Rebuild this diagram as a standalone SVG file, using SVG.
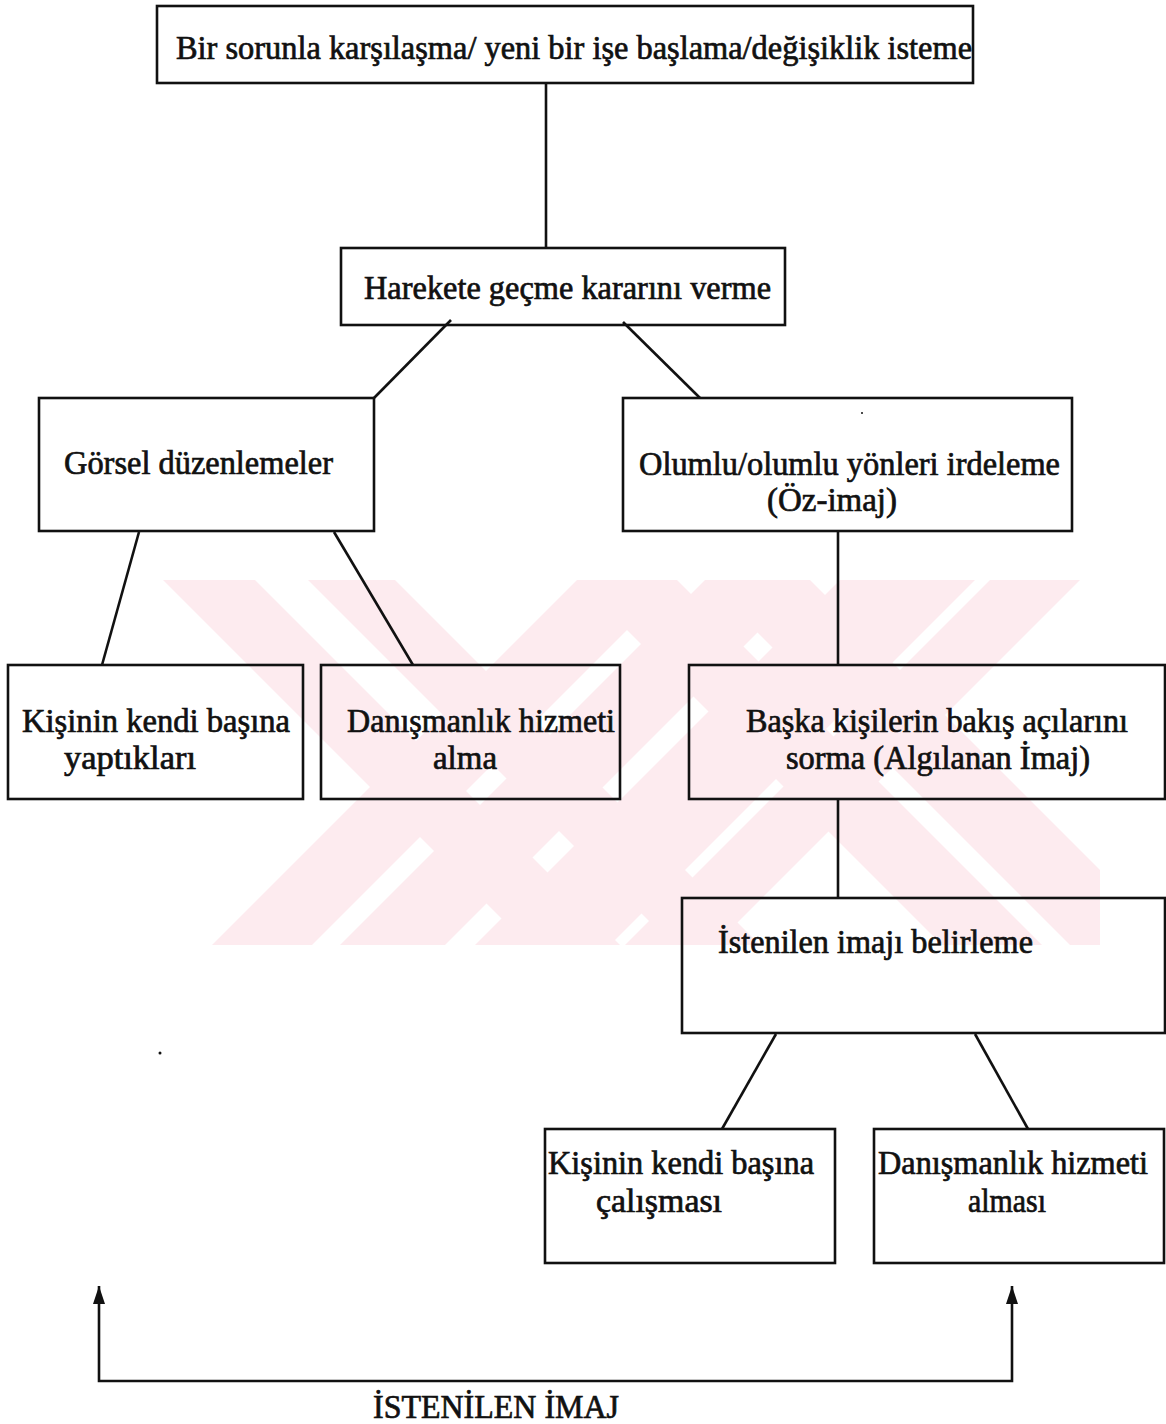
<svg xmlns="http://www.w3.org/2000/svg" width="1166" height="1424" viewBox="0 0 1166 1424">
  <style>
    .box { fill: none; stroke: #111; stroke-width: 2.6; }
    .link { fill: none; stroke: #111; stroke-width: 2.6; }
    .lbl { font-family: "Liberation Serif", "Times New Roman", serif; font-size: 33px; fill: #111; stroke: #111; stroke-width: 0.7; }
    .wm { fill: #fdebef; }
  </style>
  <defs>
    <marker id="head" viewBox="0 0 18 12" refX="18" refY="6" markerWidth="18" markerHeight="12" markerUnits="userSpaceOnUse" orient="auto-start-reverse">
      <path d="M0 0 L18 6 L0 12 Z" fill="#111"/>
    </marker>
    <clipPath id="wmclip"><rect x="160" y="580" width="940" height="365"/></clipPath>
  </defs>
  <rect width="1166" height="1424" fill="#fff"/>

  <!-- faint background stamp: crossing diagonal stripes -->
  <g id="stamp" clip-path="url(#wmclip)">
    <polygon class="wm" points="163,580 255,580 620,945 528,945"/>
    <polygon class="wm" points="308,580 395,580 760,945 673,945"/>
    <polygon class="wm" points="577,580 677,580 1042,945 942,945"/>
    <polygon class="wm" points="705,580 810,580 1175,945 1070,945"/>
    <polygon class="wm" points="577,580 677,580 312,945 212,945"/>
    <polygon class="wm" points="705,580 810,580 445,945 340,945"/>
    <polygon class="wm" points="840,580 975,580 610,945 475,945"/>
    <polygon class="wm" points="990,580 1080,580 715,945 625,945"/>
  </g>

  <g id="connectors">
    <line class="link" x1="546" y1="83" x2="546" y2="248"/>
    <line class="link" x1="451" y1="320" x2="373" y2="399"/>
    <line class="link" x1="623" y1="322" x2="700" y2="398"/>
    <line class="link" x1="139" y1="532" x2="102" y2="665"/>
    <line class="link" x1="334" y1="532" x2="413" y2="665"/>
    <line class="link" x1="838" y1="531" x2="838" y2="665"/>
    <line class="link" x1="838" y1="799" x2="838" y2="898"/>
    <line class="link" x1="776" y1="1034" x2="722" y2="1129"/>
    <line class="link" x1="975" y1="1034" x2="1028" y2="1129"/>
    <path class="link" d="M99 1286 V1381 H1012 V1286" marker-start="url(#head)" marker-end="url(#head)"/>
  </g>

  <g id="n-start">
    <rect class="box" x="157" y="6" width="816" height="77"/>
    <text class="lbl" x="176" y="59" textLength="796" lengthAdjust="spacingAndGlyphs">Bir sorunla karşılaşma/ yeni bir işe başlama/değişiklik isteme</text>
  </g>

  <g id="n-decide">
    <rect class="box" x="341" y="248" width="444" height="77"/>
    <text class="lbl" x="364" y="299" textLength="407" lengthAdjust="spacingAndGlyphs">Harekete geçme kararını verme</text>
  </g>

  <g id="n-visual">
    <rect class="box" x="39" y="398" width="335" height="133"/>
    <text class="lbl" x="64" y="474" textLength="269" lengthAdjust="spacingAndGlyphs">Görsel düzenlemeler</text>
  </g>

  <g id="n-self">
    <rect class="box" x="623" y="398" width="449" height="133"/>
    <text class="lbl" x="639" y="475" textLength="421" lengthAdjust="spacingAndGlyphs">Olumlu/olumlu yönleri irdeleme</text>
    <text class="lbl" x="767" y="511" textLength="130" lengthAdjust="spacingAndGlyphs">(Öz-imaj)</text>
  </g>

  <g id="n-own1">
    <rect class="box" x="8" y="665" width="295" height="134"/>
    <text class="lbl" x="22" y="732" textLength="268" lengthAdjust="spacingAndGlyphs">Kişinin kendi başına</text>
    <text class="lbl" x="64" y="769" textLength="132" lengthAdjust="spacingAndGlyphs">yaptıkları</text>
  </g>

  <g id="n-consult1">
    <rect class="box" x="321" y="665" width="299" height="134"/>
    <text class="lbl" x="347" y="732" textLength="268" lengthAdjust="spacingAndGlyphs">Danışmanlık hizmeti</text>
    <text class="lbl" x="433" y="769" textLength="64" lengthAdjust="spacingAndGlyphs">alma</text>
  </g>

  <g id="n-others">
    <rect class="box" x="689" y="665" width="476" height="134"/>
    <text class="lbl" x="746" y="732" textLength="382" lengthAdjust="spacingAndGlyphs">Başka kişilerin bakış açılarını</text>
    <text class="lbl" x="786" y="769" textLength="304" lengthAdjust="spacingAndGlyphs">sorma (Algılanan İmaj)</text>
  </g>

  <g id="n-target">
    <rect class="box" x="682" y="898" width="483" height="135"/>
    <text class="lbl" x="718" y="953" textLength="315" lengthAdjust="spacingAndGlyphs">İstenilen imajı belirleme</text>
  </g>

  <g id="n-own2">
    <rect class="box" x="545" y="1129" width="290" height="134"/>
    <text class="lbl" x="548" y="1174" textLength="266" lengthAdjust="spacingAndGlyphs">Kişinin kendi başına</text>
    <text class="lbl" x="596" y="1212" textLength="126" lengthAdjust="spacingAndGlyphs">çalışması</text>
  </g>

  <g id="n-consult2">
    <rect class="box" x="874" y="1129" width="290" height="134"/>
    <text class="lbl" x="878" y="1174" textLength="270" lengthAdjust="spacingAndGlyphs">Danışmanlık hizmeti</text>
    <text class="lbl" x="968" y="1212" textLength="78" lengthAdjust="spacingAndGlyphs">alması</text>
  </g>

  <g id="caption">
    <text class="lbl" x="373" y="1418" textLength="246" lengthAdjust="spacingAndGlyphs">İSTENİLEN İMAJ</text>
  </g>

  <circle cx="160" cy="1053" r="1.5" fill="#111"/>
  <circle cx="862" cy="413" r="1" fill="#111"/>
</svg>
